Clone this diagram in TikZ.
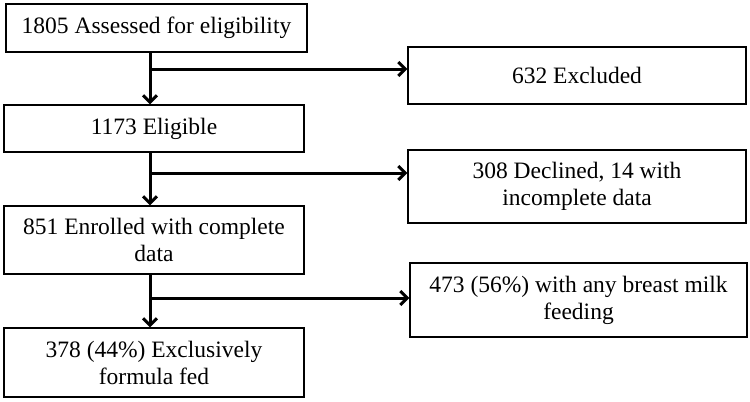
\documentclass[tikz,border=0pt]{standalone}
\usepackage{fontspec}
\setmainfont{Liberation Serif}
\usetikzlibrary{arrows.meta, calc, positioning}

\begin{document}
\begin{tikzpicture}[x=1bp,y=-1bp,line join=miter,
  box/.style={draw, line width=1.2bp, inner sep=0pt, align=center,
    font=\fontsize{23.5bp}{27bp}\selectfont},
  leftbox/.style={box, minimum width=300bp},
  rightbox/.style={box, minimum width=338bp},
  flow/.style={line width=3bp, -{Straight Barb[length=7bp,width=14bp,line width=3bp]}}]
\useasboundingbox (0,0) rectangle (750,401);

% Main boxes
\node [leftbox, minimum width=301bp, minimum height=48bp] (assess) at (156.5,28) {1805 Assessed for eligibility};
\node [leftbox, minimum height=47bp] (elig) at (154,128.5) {1173 Eligible};
\node [leftbox, minimum height=68bp] (enrol) at (154,240) {851 Enrolled with complete\\data};
\node [leftbox, minimum height=69bp] (formula) at (154,362.5) {378 (44\%) Exclusively\\formula fed};

% Side boxes
\node [rightbox, minimum height=57bp] (excl) at (577,75.5) {632 Excluded};
\node [rightbox, minimum height=73bp] (decl) at (577,186.5) {308 Declined, 14 with\\incomplete data};
\node [rightbox, minimum width=337bp, minimum height=74bp] (breast) at (578.5,300) {473 (56\%) with any breast milk\\feeding};

% Spine and branch points
\coordinate (spine) at (150,0);
\coordinate (b1) at (150,69);
\coordinate (b2) at (150,173);
\coordinate (b3) at (150,298);

% Arrows
\draw [flow] (assess.south -| spine) -- (elig.north -| spine);
\draw [flow] (elig.south -| spine) -- (enrol.north -| spine);
\draw [flow] (enrol.south -| spine) -- (formula.north -| spine);
\draw [flow] (b1) -- (b1 -| excl.west);
\draw [flow] (b2) -- (b2 -| decl.west);
\draw [flow] (b3) -- (b3 -| breast.west);
\end{tikzpicture}
\end{document}
